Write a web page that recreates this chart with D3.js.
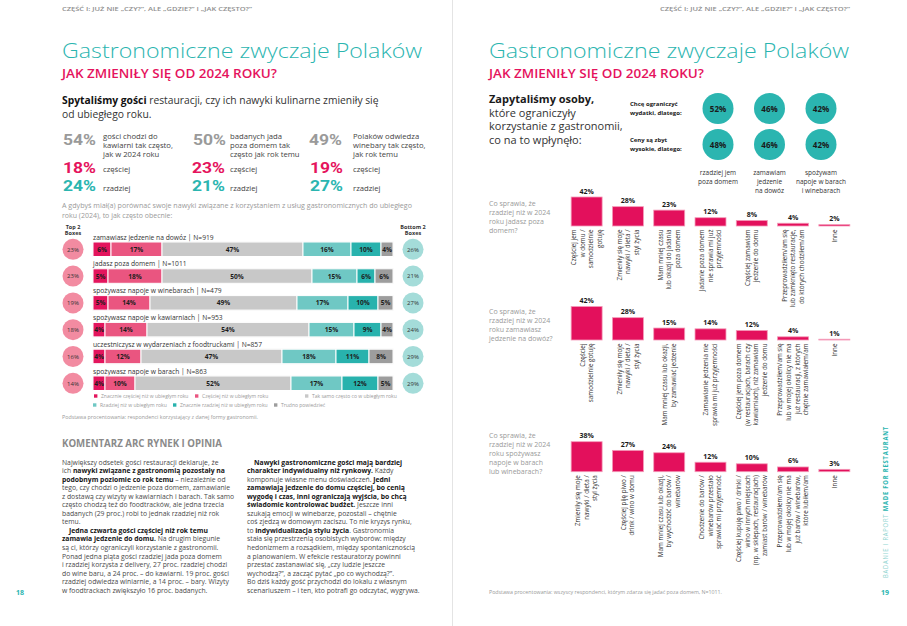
<!DOCTYPE html>
<html><head><meta charset="utf-8">
<script src="https://cdn.jsdelivr.net/npm/d3@7/dist/d3.min.js"></script>
<style>
html,body{margin:0;padding:0;background:#fff;}
svg{display:block;font-family:"Open Sans",sans-serif;}
</style></head><body>
<svg id="c" width="907" height="626"></svg>
<script>
// ---------- DATA ----------
const headerText = "CZĘŚĆ I: JUŻ NIE „CZY?”, ALE „GDZIE?” I „JAK CZĘSTO?”";
const titleText = "Gastronomiczne zwyczaje Polaków";
const subtitleText = "JAK ZMIENIŁY SIĘ OD 2024 ROKU?";

const statSame = [54, 50, 49];
const statMore = [18, 23, 19];
const statLess = [24, 21, 27];
const statDesc = [
  ["gości chodzi do", "kawiarni tak często,", "jak w 2024 roku"],
  ["badanych jada", "poza domem tak", "często jak rok temu"],
  ["Polaków odwiedza", "winebary tak często,", "jak rok temu"]
];

const habitCategories = [
  "zamawiasz jedzenie na dowóz | N=919",
  "jadasz poza domem | N=1011",
  "spożywasz napoje w winebarach | N=479",
  "spożywasz napoje w kawiarniach | N=953",
  "uczestniczysz w wydarzeniach z foodtruckami | N=857",
  "spożywasz napoje w barach | N=863"
];
const habitSeries = [
  "Znacznie częściej niż w ubiegłym roku",
  "Częściej niż w ubiegłym roku",
  "Tak samo często co w ubiegłym roku",
  "Rzadziej niż w ubiegłym roku",
  "Znacznie rzadziej niż w ubiegłym roku",
  "Trudno powiedzieć"
];
const habitValues = [
  [6, 17, 47, 16, 10, 4],
  [5, 18, 50, 15, 6, 6],
  [5, 14, 49, 17, 10, 5],
  [4, 14, 54, 15, 9, 4],
  [4, 12, 47, 18, 11, 8],
  [4, 10, 52, 17, 12, 5]
];
const top2Boxes = [23, 23, 19, 18, 16, 14];
const bottom2Boxes = [26, 21, 27, 24, 29, 29];

const limitColumns = [["rzadziej jem", "poza domem"], ["zamawiam", "jedzenie", "na dowóz"], ["spożywam", "napoje w barach", "i winebarach"]];
const limitBudget = [52, 46, 42];
const limitPrices = [48, 46, 42];

const reasons1Question = ["Co sprawia, że", "rzadziej niż w 2024", "roku jadasz poza", "domem?"];
const reasons1Labels = [
  ["Częściej jem", "w domu /", "samodzielnie", "gotuję"],
  ["Zmieniły się moje", "nawyki / dieta /", "styl życia"],
  ["Mam mniej czasu", "lub okazji do jadania", "poza domem"],
  ["Jadanie poza domem", "nie sprawia mi już", "przyjemności"],
  ["Częściej zamawiam", "jedzenie do domu"],
  ["Przeprowadziłem/am się", "lub zamknięto restauracje,", "do których chodziłem/am"],
  ["Inne"]
];
const reasons1Values = [42, 28, 23, 12, 8, 4, 2];

const reasons2Question = ["Co sprawia, że", "rzadziej niż w 2024", "roku zamawiasz", "jedzenie na dowóz?"];
const reasons2Labels = [
  ["Częściej", "samodzielnie gotuję"],
  ["Zmieniły się moje", "nawyki / dieta /", "styl życia"],
  ["Mam mniej czasu lub okazji,", "by zamawiać jedzenie"],
  ["Zamawianie jedzenia nie", "sprawia mi już przyjemności"],
  ["Częściej jem poza domem", "(w restauracjach, barach czy", "kawiarniach), niż zamawiam", "jedzenie do domu"],
  ["Przeprowadziłem/am się", "lub w mojej okolicy nie ma", "już restauracji, z których", "chętnie zamawiałem/am"],
  ["Inne"]
];
const reasons2Values = [42, 28, 15, 14, 12, 4, 1];

const reasons3Question = ["Co sprawia, że", "rzadziej niż w 2024", "roku spożywasz", "napoje w barach", "lub winebarach?"];
const reasons3Labels = [
  ["Zmieniły się moje", "nawyki / dieta /", "styl życia"],
  ["Częściej piję piwo /", "drink / wino w domu"],
  ["Mam mniej czasu lub okazji,", "by wychodzić do barów /", "winebarów"],
  ["Chodzenie do barów /", "winebarów przestało", "sprawiać mi przyjemność"],
  ["Częściej kupuję piwo / drinki /", "wino w innych miejscach", "(np. w sklepach, restauracjach)", "zamiast barów / winebarów"],
  ["Przeprowadziłem/am się", "lub w mojej okolicy nie ma", "już barów / winebarów,", "które lubiłem/am"],
  ["Inne"]
];
const reasons3Values = [38, 27, 24, 12, 10, 6, 3];

const commentLeft = [
  "Największy odsetek gości restauracji deklaruje, że",
  "ich **nawyki związane z gastronomią pozostały na**",
  "**podobnym poziomie co rok temu** – niezależnie od",
  "tego, czy chodzi o jedzenie poza domem, zamawianie",
  "z dostawą czy wizyty w kawiarniach i barach. Tak samo",
  "często chodzą też do foodtracków, ale jedna trzecia",
  "badanych (29 proc.) robi to jednak rzadziej niż rok",
  "temu.",
  ">**Jedna czwarta gości częściej niż rok temu**",
  "**zamawia jedzenie do domu.** Na drugim biegunie",
  "są ci, którzy ograniczyli korzystanie z gastronomii.",
  "Ponad jedna piąta gości rzadziej jada poza domem",
  "i rzadziej korzysta z delivery, 27 proc. rzadziej chodzi",
  "do wine baru, a 24 proc. – do kawiarni. 19 proc. gości",
  "rzadziej odwiedza winiarnie, a 14 proc. – bary. Wizyty",
  "w foodtrackach zwiększyło 16 proc. badanych."
];
const commentRight = [
  ">**Nawyki gastronomiczne gości mają bardziej**",
  "**charakter indywidualny niż rynkowy.** Każdy",
  "komponuje własne menu doświadczeń. **Jedni**",
  "**zamawiają jedzenie do domu częściej, bo cenią**",
  "**wygodę i czas, inni ograniczają wyjścia, bo chcą**",
  "**świadomie kontrolować budżet.** Jeszcze inni",
  "szukają emocji w winebarze, pozostali – chętnie",
  "coś zjedzą w domowym zaciszu. To nie kryzys rynku,",
  "to **indywidualizacja stylu życia**. Gastronomia",
  "stała się przestrzenią osobistych wyborów: między",
  "hedonizmem a rozsądkiem, między spontanicznością",
  "a planowaniem. W efekcie restauratorzy powinni",
  "przestać zastanawiać się, „czy ludzie jeszcze",
  "wychodzą?”, a zacząć pytać „po co wychodzą?”.",
  "Bo dziś każdy gość przychodzi do lokalu z własnym",
  "scenariuszem – i ten, kto potrafi go odczytać, wygrywa."
];

// ---------- STYLE ----------
const TEAL = "#2bb5b0", PINK = "#e5135d";
const habitColors = ["#e3155d", "#ea5580", "#c8c8c8", "#6fc8c4", "#28b2ad", "#9d9d9d"];

const svg = d3.select("#c");
function txt(g, x, y, s, o = {}) {
  const t = g.append("text").attr("x", x).attr("y", y).text(s)
    .attr("font-size", o.size || 7).attr("fill", o.fill || "#333")
    .attr("font-weight", o.weight || 400);
  if (o.anchor) t.attr("text-anchor", o.anchor);
  if (o.len) t.attr("textLength", o.len).attr("lengthAdjust", "spacingAndGlyphs");
  if (o.ls) t.attr("letter-spacing", o.ls);
  if (o.family) t.attr("font-family", o.family);
  return t;
}
function richLine(g, x, y, line, size, indent) {
  let ind = 0;
  if (line.startsWith(">")) { line = line.slice(1); ind = indent; }
  const t = g.append("text").attr("x", x + ind).attr("y", y).attr("font-size", size);
  line.split("**").forEach((seg, i) => {
    if (!seg) return;
    t.append("tspan").text(seg)
      .attr("font-weight", i % 2 ? 700 : 400)
      .attr("fill", i % 2 ? "#151515" : "#4a4a4a");
  });
}

// page divider
svg.append("rect").attr("x", 452).attr("y", 0).attr("width", 1).attr("height", 626).attr("fill", "#e4e4e4");

// ---------- HEADERS (both pages) ----------
[[62, 62], [489, 660]].forEach(([tx, hx]) => {
  txt(svg, hx, 11, headerText, { size: 5.6, fill: "#8e8e8e", weight: 600, len: 190 });
  txt(svg, tx, 58, titleText, { size: 21, fill: TEAL, weight: 300, len: 360 });
  txt(svg, tx, 78, subtitleText, { size: 12.5, fill: PINK, weight: 600, len: 215 });
});

// ---------- LEFT PAGE ----------
const L = svg.append("g");
const intro = L.append("text").attr("x", 62).attr("y", 104).attr("font-size", 10.3).attr("fill", "#333");
intro.append("tspan").text("Spytaliśmy gości").attr("font-weight", 700).attr("fill", "#111");
intro.append("tspan").text(" restauracji, czy ich nawyki kulinarne zmieniły się");
txt(L, 62, 118, "od ubiegłego roku.", { size: 10.3, fill: "#333" });

const statLeft = [63, 193, 309], statRight = [96, 225, 343], statTextX = [103, 230, 353];
const bigNum = { size: 15, weight: 700, family: "Roboto", len: 33 };
statSame.forEach((v, i) => {
  txt(L, statLeft[i], 145, v + "%", { ...bigNum, fill: "#9a9a9a" });
  statDesc[i].forEach((s, j) => txt(L, statTextX[i], 139 + j * 9, s, { size: 7.7, fill: "#444" }));
  txt(L, statRight[i], 173, statMore[i] + "%", { ...bigNum, fill: PINK, anchor: "end" });
  txt(L, statTextX[i], 172, "częściej", { size: 7.7, fill: "#444" });
  txt(L, statRight[i], 191, statLess[i] + "%", { ...bigNum, fill: TEAL, anchor: "end" });
  txt(L, statTextX[i], 190.5, "rzadziej", { size: 7.7, fill: "#444" });
});

txt(L, 62, 208, "A gdybyś miał(a) porównać swoje nawyki związane z korzystaniem z usług gastronomicznych do ubiegłego", { size: 7, fill: "#9a9a9a", len: 350 });
txt(L, 62, 217.5, "roku (2024), to jak często obecnie:", { size: 7, fill: "#9a9a9a" });

txt(L, 73, 228.5, "Top 2", { size: 5.5, weight: 700, fill: "#333", anchor: "middle" });
txt(L, 73, 235, "Boxes", { size: 5.5, weight: 700, fill: "#333", anchor: "middle" });
txt(L, 413, 228.5, "Bottom 2", { size: 5.5, weight: 700, fill: "#333", anchor: "middle" });
txt(L, 413, 235, "Boxes", { size: 5.5, weight: 700, fill: "#333", anchor: "middle" });

const xS = d3.scaleLinear().domain([0, 100]).range([93, 393]);
const yS = d3.scaleBand().domain(habitCategories).range([229.5, 390.3]);
const colorS = d3.scaleOrdinal().domain(habitSeries).range(habitColors);
const habitTable = habitCategories.map((c, i) => ({ cat: c, vals: habitValues[i], top: top2Boxes[i], bot: bottom2Boxes[i] }));
const stacked = d3.stack().keys(habitSeries).value((d, k) => d.vals[habitSeries.indexOf(k)])(habitTable);

const rowG = L.selectAll("g.row").data(habitTable).join("g").attr("class", "row");
rowG.append("text").attr("x", 93).attr("y", d => yS(d.cat) + 10).attr("font-size", 6.7).attr("fill", "#333").text(d => d.cat);
rowG.append("circle").attr("cx", 73).attr("cy", d => yS(d.cat) + 19.8).attr("r", 10.5).attr("fill", "#f28ba1");
rowG.append("text").attr("x", 73).attr("y", d => yS(d.cat) + 22).attr("text-anchor", "middle").attr("font-size", 6).attr("fill", "#333").text(d => d.top + "%");
rowG.append("circle").attr("cx", 413).attr("cy", d => yS(d.cat) + 19.8).attr("r", 10.5).attr("fill", "#a4dcd9");
rowG.append("text").attr("x", 413).attr("y", d => yS(d.cat) + 22).attr("text-anchor", "middle").attr("font-size", 6).attr("fill", "#333").text(d => d.bot + "%");
rowG.append("rect").attr("x", xS(0) - 0.5).attr("y", d => yS(d.cat) + 12).attr("width", xS(100) - xS(0) + 1).attr("height", 15.5).attr("fill", "#eeeeee");

const layer = L.selectAll("g.layer").data(stacked).join("g").attr("class", "layer").attr("fill", d => colorS(d.key));
layer.selectAll("rect").data(d => d).join("rect")
  .attr("x", d => xS(d[0])).attr("width", d => xS(d[1]) - xS(d[0]))
  .attr("y", d => yS(d.data.cat) + 12.5).attr("height", 14.5)
  .attr("stroke", "#fff").attr("stroke-width", 1);
layer.each(function (s) {
  d3.select(this).selectAll("text").data(s).join("text")
    .attr("x", d => (xS(d[0]) + xS(d[1])) / 2).attr("y", d => yS(d.data.cat) + 22.3)
    .attr("text-anchor", "middle").attr("font-size", 6.6).attr("font-weight", 700).attr("fill", "#1e1e1e")
    .text(d => (d[1] - d[0]) + "%");
});

// legend
const legendPos = [[94, 397.5], [195, 397.5], [305, 397.5], [93, 406.5], [173, 406.5], [274, 406.5]];
habitSeries.forEach((s, i) => {
  const [lx, ly] = legendPos[i];
  L.append("rect").attr("x", lx).attr("y", ly - 3.2).attr("width", 3.4).attr("height", 3.4).attr("fill", colorS(s));
  txt(L, lx + 7, ly, s, { size: 5, fill: "#999" });
});
txt(L, 62, 419, "Podstawa procentowania: respondenci korzystający z danej formy gastronomii.", { size: 5, fill: "#999", len: 196 });

txt(L, 62, 446.5, "KOMENTARZ ARC RYNEK I OPINIA", { size: 10, weight: 700, fill: "#8a8a8a", len: 160 });
commentLeft.forEach((l, i) => richLine(L, 62, 464.5 + i * 8.55, l, 6.8, 7));
commentRight.forEach((l, i) => richLine(L, 247, 464.5 + i * 8.55, l, 6.8, 7));
txt(L, 20, 595, "18", { size: 7, weight: 700, fill: TEAL, anchor: "middle" });

// ---------- RIGHT PAGE ----------
const R = svg.append("g");
txt(R, 489, 103, "Zapytaliśmy osoby,", { size: 11, weight: 700, fill: "#1a1a1a" });
["które ograniczyły", "korzystanie z gastronomii,", "co na to wpłynęło:"].forEach((s, i) =>
  txt(R, 489, 117 + i * 13.3, s, { size: 11, fill: "#333" }));

txt(R, 630, 106, "Chcę ograniczyć", { size: 6, weight: 700, fill: "#1a1a1a" });
txt(R, 630, 115, "wydatki, dlatego:", { size: 6, weight: 700, fill: "#1a1a1a" });
txt(R, 630, 141.5, "Ceny są zbyt", { size: 6, weight: 700, fill: "#1a1a1a" });
txt(R, 630, 150.5, "wysokie, dlatego:", { size: 6, weight: 700, fill: "#1a1a1a" });

const circleX = d3.scalePoint().domain(d3.range(3)).range([718, 821]);
[[limitBudget, 108.5], [limitPrices, 144.5]].forEach(([arr, cy]) => {
  arr.forEach((v, i) => {
    R.append("circle").attr("cx", circleX(i)).attr("cy", cy).attr("r", 15.5).attr("fill", TEAL);
    txt(R, circleX(i), cy + 3, v + "%", { size: 8, weight: 700, fill: "#1a1a1a", anchor: "middle" });
  });
});
limitColumns.forEach((lines, i) => lines.forEach((s, j) =>
  txt(R, circleX(i), 174.5 + j * 9, s, { size: 6.5, fill: "#333", anchor: "middle" })));

const reasonCharts = [
  { q: reasons1Question, labels: reasons1Labels, values: reasons1Values, base: 226, top: 197, max: 42, qy: 205.5 },
  { q: reasons2Question, labels: reasons2Labels, values: reasons2Values, base: 340, top: 306.5, max: 42, qy: 313.5 },
  { q: reasons3Question, labels: reasons3Labels, values: reasons3Values, base: 471.7, top: 441.7, max: 38, qy: 437.5 }
];
reasonCharts.forEach(ch => {
  const g = R.append("g");
  ch.q.forEach((s, i) => txt(g, 489, ch.qy + i * 9, s, { size: 7, fill: "#9a9a9a" }));
  const bx = d3.scaleBand().domain(d3.range(ch.values.length)).range([566, 855]).paddingInner(0.25).paddingOuter(0.125);
  const by = d3.scaleLinear().domain([0, ch.max]).range([ch.base, ch.top]);
  g.selectAll("rect").data(ch.values).join("rect")
    .attr("x", (d, i) => bx(i)).attr("width", bx.bandwidth())
    .attr("y", d => by(d)).attr("height", d => ch.base - by(d))
    .attr("fill", "#e3105c").attr("stroke", "#f49ab8").attr("stroke-width", 0.8);
  g.selectAll("text.val").data(ch.values).join("text").attr("class", "val")
    .attr("x", (d, i) => bx(i) + bx.bandwidth() / 2).attr("y", d => by(d) - 3.5)
    .attr("text-anchor", "middle").attr("font-size", 7).attr("font-weight", 700).attr("fill", "#1a1a1a")
    .text(d => d + "%");
  ch.labels.forEach((lines, i) => {
    const cx = bx(i) + bx.bandwidth() / 2;
    const lg = g.append("g").attr("transform", `translate(${cx},${ch.base + 3.5}) rotate(-90)`);
    const n = lines.length, lh = 8.6;
    lines.forEach((s, j) => {
      lg.append("text").attr("x", 0).attr("y", (j - (n - 1) / 2) * lh + 2.2)
        .attr("text-anchor", "end").attr("font-size", 6.3).attr("fill", "#333").text(s);
    });
  });
});

txt(R, 489, 594, "Podstawa procentowania: wszyscy respondenci, którym zdarza się jadać poza domem, N=1011.", { size: 5, fill: "#999", len: 233 });
txt(R, 885, 595, "19", { size: 7, weight: 700, fill: TEAL, anchor: "middle" });
const side = R.append("text").attr("transform", "translate(887.5,578) rotate(-90)")
  .attr("font-size", 6.4).attr("letter-spacing", 0.9).attr("textLength", 152).attr("lengthAdjust", "spacingAndGlyphs");
side.append("tspan").text("BADANIE I RAPORT ").attr("fill", "#8fd4d0");
side.append("tspan").text("MADE FOR RESTAURANT").attr("fill", TEAL).attr("font-weight", 700);
</script>
</body></html>
